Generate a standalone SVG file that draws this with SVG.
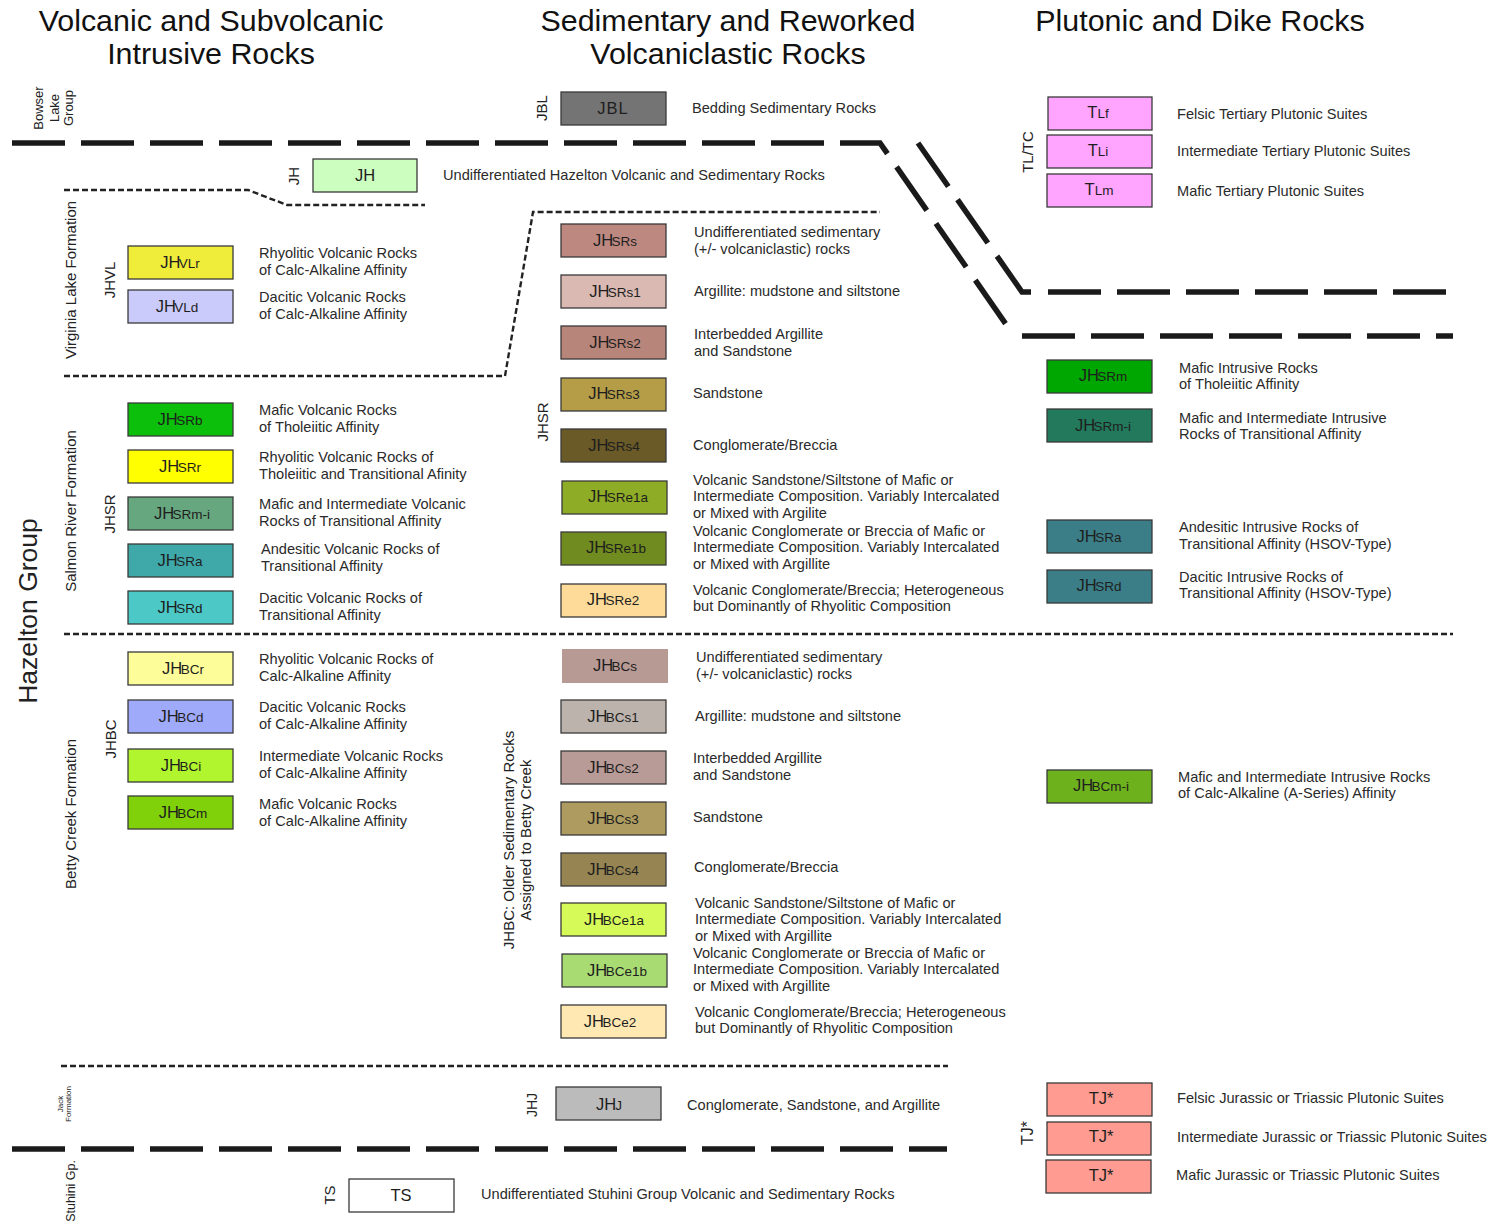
<svg xmlns="http://www.w3.org/2000/svg" width="1492" height="1223" viewBox="0 0 1492 1223">
<style>
text{font-family:"Liberation Sans",Arial,sans-serif;fill:#222}
.title{font-size:30.4px;fill:#111;text-anchor:middle}
.desc{font-size:14.6px;fill:#2a2a2a}
.lbl{font-size:16.5px;text-anchor:middle;fill:#1e1e1e}
.sub{font-size:13.5px}
.vt{font-size:15px;text-anchor:middle}
.box{stroke:#3a3a3a;stroke-width:1.3}
.thick{fill:none;stroke:#1a1a1a;stroke-width:5.5;stroke-dasharray:53 16}
.dot{fill:none;stroke:#222;stroke-width:2.4;stroke-dasharray:6 3}
</style>
<rect width="1492" height="1223" fill="#fff"/>
<g id="titles">
<text class="title" x="211" y="31">Volcanic and Subvolcanic</text>
<text class="title" x="211" y="64">Intrusive Rocks</text>
<text class="title" x="728" y="31">Sedimentary and Reworked</text>
<text class="title" x="728" y="64">Volcaniclastic Rocks</text>
<text class="title" x="1200" y="31">Plutonic and Dike Rocks</text>
</g>
<g id="connectors">
<path class="thick" d="M12,143 H880 L1012,333"/>
<path class="thick" d="M1022,336 H1453"/>
<path class="thick" d="M918,143 L1022,292 H1031"/>
<path class="thick" d="M1048,292 H1447"/>
<path class="thick" d="M12,1149 H947"/>
<path class="dot" d="M64,190 H248 L287,205 H425"/>
<path class="dot" d="M64,376 H505 L533,212 H880"/>
<path class="dot" d="M64,634 H1453"/>
<path class="dot" d="M61,1066 H948"/>
</g>
<g id="group-labels">
<text font-size="13" text-anchor="middle" transform="translate(43,108) rotate(-90)">Bowser</text>
<text font-size="13" text-anchor="middle" transform="translate(59,108) rotate(-90)">Lake</text>
<text font-size="13" text-anchor="middle" transform="translate(73,108) rotate(-90)">Group</text>
<text class="vt" transform="translate(76,280) rotate(-90)">Virginia Lake Formation</text>
<text class="vt" transform="translate(115,280) rotate(-90)">JHVL</text>
<text font-size="26.5" text-anchor="middle" transform="translate(37,611) rotate(-90)">Hazelton Group</text>
<text class="vt" transform="translate(76,511) rotate(-90)">Salmon River Formation</text>
<text class="vt" transform="translate(115,514) rotate(-90)">JHSR</text>
<text class="vt" transform="translate(76,814) rotate(-90)">Betty Creek Formation</text>
<text class="vt" transform="translate(116,739) rotate(-90)">JHBC</text>
<text class="vt" transform="translate(514,840) rotate(-90)">JHBC: Older Sedimentary Rocks</text>
<text class="vt" transform="translate(531,840) rotate(-90)">Assigned to Betty Creek</text>
<text class="vt" transform="translate(548,422) rotate(-90)">JHSR</text>
<text class="vt" transform="translate(547,108) rotate(-90)">JBL</text>
<text class="vt" transform="translate(299,176) rotate(-90)">JH</text>
<text class="vt" transform="translate(1033,152) rotate(-90)">TL/TC</text>
<text font-size="8" text-anchor="middle" transform="translate(63,1104) rotate(-90)">Jack</text>
<text font-size="8" text-anchor="middle" transform="translate(71,1104) rotate(-90)">Formation</text>
<text font-size="12.5" style="text-anchor:end" transform="translate(75,1160) rotate(-90)">Stuhini Gp.</text>
<text class="vt" transform="translate(335,1195) rotate(-90)">TS</text>
<text font-size="14" text-anchor="middle" transform="translate(537,1105) rotate(-90)">JHJ</text>
<text font-size="16" text-anchor="middle" transform="translate(1033,1133) rotate(-90)">TJ*</text>
</g>

<!-- Left column -->
<g id="JHVLr"><rect class="box" x="128" y="246" width="105" height="33" fill="#f0ec3a"/><text class="lbl" x="180" y="268">JH<tspan class="sub" dx="-1.5">VLr</tspan></text><text class="desc" x="259" y="258">Rhyolitic Volcanic Rocks<tspan x="259" dy="16.5">of Calc-Alkaline Affinity</tspan></text></g>
<g id="JHVLd"><rect class="box" x="128" y="290" width="105" height="33" fill="#cbcbfb"/><text class="lbl" x="177" y="312">JH<tspan class="sub" dx="-1.5">VLd</tspan></text><text class="desc" x="259" y="302">Dacitic Volcanic Rocks<tspan x="259" dy="16.5">of Calc-Alkaline Affinity</tspan></text></g>
<g id="JHSRb"><rect class="box" x="128" y="403" width="105" height="33" fill="#0bbf0b"/><text class="lbl" x="180" y="425">JH<tspan class="sub" dx="-1.5">SRb</tspan></text><text class="desc" x="259" y="415">Mafic Volcanic Rocks<tspan x="259" dy="16.5">of Tholeiitic Affinity</tspan></text></g>
<g id="JHSRr"><rect class="box" x="128" y="450" width="105" height="33" fill="#ffff00"/><text class="lbl" x="180" y="472">JH<tspan class="sub" dx="-1.5">SRr</tspan></text><text class="desc" x="259" y="462">Rhyolitic Volcanic Rocks of<tspan x="259" dy="16.5">Tholeiitic and Transitional Afinity</tspan></text></g>
<g id="JHSRm-i-v"><rect class="box" x="128" y="497" width="105" height="33" fill="#67a77f"/><text class="lbl" x="182" y="519">JH<tspan class="sub" dx="-1.5">SRm-i</tspan></text><text class="desc" x="259" y="509">Mafic and Intermediate Volcanic<tspan x="259" dy="16.5">Rocks of Transitional Affinity</tspan></text></g>
<g id="JHSRa-v"><rect class="box" x="128" y="544" width="105" height="33" fill="#3fa9aa"/><text class="lbl" x="180" y="566">JH<tspan class="sub" dx="-1.5">SRa</tspan></text><text class="desc" x="261" y="554">Andesitic Volcanic Rocks of<tspan x="261" dy="16.5">Transitional Affinity</tspan></text></g>
<g id="JHSRd-v"><rect class="box" x="128" y="591" width="105" height="33" fill="#4cc8c6"/><text class="lbl" x="180" y="613">JH<tspan class="sub" dx="-1.5">SRd</tspan></text><text class="desc" x="259" y="603">Dacitic Volcanic Rocks of<tspan x="259" dy="16.5">Transitional Affinity</tspan></text></g>
<g id="JHBCr"><rect class="box" x="128" y="652" width="105" height="33" fill="#fdfd99"/><text class="lbl" x="183" y="674">JH<tspan class="sub" dx="-1.5">BCr</tspan></text><text class="desc" x="259" y="664">Rhyolitic Volcanic Rocks of<tspan x="259" dy="16.5">Calc-Alkaline Affinity</tspan></text></g>
<g id="JHBCd"><rect class="box" x="128" y="700" width="105" height="33" fill="#a0aafa"/><text class="lbl" x="181" y="722">JH<tspan class="sub" dx="-1.5">BCd</tspan></text><text class="desc" x="259" y="712">Dacitic Volcanic Rocks<tspan x="259" dy="16.5">of Calc-Alkaline Affinity</tspan></text></g>
<g id="JHBCi"><rect class="box" x="128" y="749" width="105" height="33" fill="#b1f52f"/><text class="lbl" x="181" y="771">JH<tspan class="sub" dx="-1.5">BCi</tspan></text><text class="desc" x="259" y="761">Intermediate Volcanic Rocks<tspan x="259" dy="16.5">of Calc-Alkaline Affinity</tspan></text></g>
<g id="JHBCm"><rect class="box" x="128" y="796" width="105" height="33" fill="#80d10a"/><text class="lbl" x="183" y="818">JH<tspan class="sub" dx="-1.5">BCm</tspan></text><text class="desc" x="259" y="809">Mafic Volcanic Rocks<tspan x="259" dy="16.5">of Calc-Alkaline Affinity</tspan></text></g>

<!-- Middle column -->
<g id="JBL"><rect class="box" x="561" y="92" width="105" height="33" fill="#747474"/><text class="lbl" x="613" y="114" style="letter-spacing:1px">JBL</text><text class="desc" x="692" y="113">Bedding Sedimentary Rocks</text></g>
<g id="JH"><rect class="box" x="313" y="159" width="104" height="33" fill="#ccffbf" stroke="#555"/><text class="lbl" x="365" y="181" font-size="17.5">JH</text><text class="desc" x="443" y="180">Undifferentiated Hazelton Volcanic and Sedimentary Rocks</text></g>
<g id="JHSRs"><rect class="box" x="561" y="224" width="105" height="33" fill="#bc8880"/><text class="lbl" x="615" y="246">JH<tspan class="sub" dx="-1.5">SRs</tspan></text><text class="desc" x="694" y="237">Undifferentiated sedimentary<tspan x="694" dy="16.5">(+/- volcaniclastic) rocks</tspan></text></g>
<g id="JHSRs1"><rect class="box" x="561" y="275" width="105" height="33" fill="#d9b9b2"/><text class="lbl" x="615" y="297">JH<tspan class="sub" dx="-1.5">SRs1</tspan></text><text class="desc" x="694" y="296">Argillite: mudstone and siltstone</text></g>
<g id="JHSRs2"><rect class="box" x="561" y="326" width="105" height="33" fill="#b8857a"/><text class="lbl" x="615" y="348">JH<tspan class="sub" dx="-1.5">SRs2</tspan></text><text class="desc" x="694" y="339">Interbedded Argillite<tspan x="694" dy="16.5">and Sandstone</tspan></text></g>
<g id="JHSRs3"><rect class="box" x="561" y="378" width="105" height="33" fill="#b59d48"/><text class="lbl" x="614" y="399">JH<tspan class="sub" dx="-1.5">SRs3</tspan></text><text class="desc" x="693" y="398">Sandstone</text></g>
<g id="JHSRs4"><rect class="box" x="561" y="429" width="105" height="33" fill="#6a5a28"/><text class="lbl" x="614" y="451">JH<tspan class="sub" dx="-1.5">SRs4</tspan></text><text class="desc" x="693" y="450">Conglomerate/Breccia</text></g>
<g id="JHSRe1a"><rect class="box" x="562" y="481" width="105" height="33" fill="#8fac26"/><text class="lbl" x="618" y="502">JH<tspan class="sub" dx="-1.5">SRe1a</tspan></text><text class="desc" x="693" y="485">Volcanic Sandstone/Siltstone of Mafic or<tspan x="693" dy="16.3">Intermediate Composition. Variably Intercalated</tspan><tspan x="693" dy="16.3">or Mixed with Argilite</tspan></text></g>
<g id="JHSRe1b"><rect class="box" x="561" y="532" width="105" height="33" fill="#708b1f"/><text class="lbl" x="616" y="553">JH<tspan class="sub" dx="-1.5">SRe1b</tspan></text><text class="desc" x="693" y="536">Volcanic Conglomerate or Breccia of Mafic or<tspan x="693" dy="16.3">Intermediate Composition. Variably Intercalated</tspan><tspan x="693" dy="16.3">or Mixed with Argillite</tspan></text></g>
<g id="JHSRe2"><rect class="box" x="561" y="584" width="105" height="33" fill="#fedb99"/><text class="lbl" x="613" y="605">JH<tspan class="sub" dx="-1.5">SRe2</tspan></text><text class="desc" x="693" y="595">Volcanic Conglomerate/Breccia; Heterogeneous<tspan x="693" dy="16.3">but Dominantly of Rhyolitic Composition</tspan></text></g>
<g id="JHBCs"><rect x="562" y="649" width="106" height="34" fill="#b89a94"/><text class="lbl" x="615" y="671">JH<tspan class="sub" dx="-1.5">BCs</tspan></text><text class="desc" x="696" y="662">Undifferentiated sedimentary<tspan x="696" dy="16.5">(+/- volcaniclastic) rocks</tspan></text></g>
<g id="JHBCs1"><rect class="box" x="561" y="700" width="105" height="33" fill="#bdb3ad"/><text class="lbl" x="613" y="722">JH<tspan class="sub" dx="-1.5">BCs1</tspan></text><text class="desc" x="695" y="721">Argillite: mudstone and siltstone</text></g>
<g id="JHBCs2"><rect class="box" x="561" y="751" width="105" height="33" fill="#b89a96"/><text class="lbl" x="613" y="773">JH<tspan class="sub" dx="-1.5">BCs2</tspan></text><text class="desc" x="693" y="763">Interbedded Argillite<tspan x="693" dy="16.5">and Sandstone</tspan></text></g>
<g id="JHBCs3"><rect class="box" x="561" y="802" width="105" height="33" fill="#ad9b5f"/><text class="lbl" x="613" y="824">JH<tspan class="sub" dx="-1.5">BCs3</tspan></text><text class="desc" x="693" y="822">Sandstone</text></g>
<g id="JHBCs4"><rect class="box" x="561" y="853" width="105" height="33" fill="#968553"/><text class="lbl" x="613" y="875">JH<tspan class="sub" dx="-1.5">BCs4</tspan></text><text class="desc" x="694" y="872">Conglomerate/Breccia</text></g>
<g id="JHBCe1a"><rect class="box" x="561" y="903" width="105" height="33" fill="#d6fb59"/><text class="lbl" x="614" y="925">JH<tspan class="sub" dx="-1.5">BCe1a</tspan></text><text class="desc" x="695" y="908">Volcanic Sandstone/Siltstone of Mafic or<tspan x="695" dy="16.3">Intermediate Composition. Variably Intercalated</tspan><tspan x="695" dy="16.3">or Mixed with Argillite</tspan></text></g>
<g id="JHBCe1b"><rect class="box" x="562" y="954" width="105" height="33" fill="#a9db73"/><text class="lbl" x="617" y="976">JH<tspan class="sub" dx="-1.5">BCe1b</tspan></text><text class="desc" x="693" y="958">Volcanic Conglomerate or Breccia of Mafic or<tspan x="693" dy="16.3">Intermediate Composition. Variably Intercalated</tspan><tspan x="693" dy="16.3">or Mixed with Argillite</tspan></text></g>
<g id="JHBCe2"><rect class="box" x="561" y="1005" width="105" height="33" fill="#ffe8b2"/><text class="lbl" x="610" y="1027">JH<tspan class="sub" dx="-1.5">BCe2</tspan></text><text class="desc" x="695" y="1017">Volcanic Conglomerate/Breccia; Heterogeneous<tspan x="695" dy="16.3">but Dominantly of Rhyolitic Composition</tspan></text></g>
<g id="JHJ"><rect class="box" x="556" y="1087" width="105" height="33" fill="#bbbbbb"/><text class="lbl" x="609" y="1110">JH<tspan class="sub" dx="-1">J</tspan></text><text class="desc" x="687" y="1110">Conglomerate, Sandstone, and Argillite</text></g>
<g id="TS"><rect class="box" x="349" y="1179" width="105" height="33" fill="#ffffff"/><text class="lbl" x="401" y="1201">TS</text><text class="desc" x="481" y="1199">Undifferentiated Stuhini Group Volcanic and Sedimentary Rocks</text></g>

<!-- Right column -->
<g id="TLf"><rect class="box" x="1048" y="97" width="104" height="33" fill="#ffa5ff"/><text class="lbl" x="1098" y="118">T<tspan class="sub">Lf</tspan></text><text class="desc" x="1177" y="119">Felsic Tertiary Plutonic Suites</text></g>
<g id="TLi"><rect class="box" x="1047" y="135" width="105" height="33" fill="#ffa5ff"/><text class="lbl" x="1098" y="156">T<tspan class="sub">Li</tspan></text><text class="desc" x="1177" y="156">Intermediate Tertiary Plutonic Suites</text></g>
<g id="TLm"><rect class="box" x="1047" y="174" width="105" height="33" fill="#ffa5ff"/><text class="lbl" x="1099" y="195">T<tspan class="sub">Lm</tspan></text><text class="desc" x="1177" y="196">Mafic Tertiary Plutonic Suites</text></g>
<g id="JHSRm"><rect class="box" x="1047" y="360" width="105" height="33" fill="#00a700"/><text class="lbl" x="1103" y="381">JH<tspan class="sub" dx="-1.5">SRm</tspan></text><text class="desc" x="1179" y="373">Mafic Intrusive Rocks<tspan x="1179" dy="16.3">of Tholeiitic Affinity</tspan></text></g>
<g id="JHSRm-i-p"><rect class="box" x="1047" y="409" width="105" height="33" fill="#22795b"/><text class="lbl" x="1103" y="431">JH<tspan class="sub" dx="-1.5">SRm-i</tspan></text><text class="desc" x="1179" y="423">Mafic and Intermediate Intrusive<tspan x="1179" dy="16.3">Rocks of Transitional Affinity</tspan></text></g>
<g id="JHSRa-p"><rect class="box" x="1047" y="520" width="105" height="33" fill="#3b7e88"/><text class="lbl" x="1099" y="542">JH<tspan class="sub" dx="-1.5">SRa</tspan></text><text class="desc" x="1179" y="532">Andesitic Intrusive Rocks of<tspan x="1179" dy="16.8">Transitional Affinity (HSOV-Type)</tspan></text></g>
<g id="JHSRd-p"><rect class="box" x="1047" y="570" width="105" height="33" fill="#3b7e88"/><text class="lbl" x="1099" y="591">JH<tspan class="sub" dx="-1.5">SRd</tspan></text><text class="desc" x="1179" y="582">Dacitic Intrusive Rocks of<tspan x="1179" dy="16.3">Transitional Affinity (HSOV-Type)</tspan></text></g>
<g id="JHBCm-i"><rect class="box" x="1047" y="770" width="105" height="33" fill="#6db21c"/><text class="lbl" x="1101" y="791">JH<tspan class="sub" dx="-1.5">BCm-i</tspan></text><text class="desc" x="1178" y="782">Mafic and Intermediate Intrusive Rocks<tspan x="1178" dy="16.3">of Calc-Alkaline (A-Series) Affinity</tspan></text></g>
<g id="TJf"><rect class="box" x="1047" y="1083" width="105" height="33" fill="#ff9b90"/><text class="lbl" x="1101" y="1104">TJ*</text><text class="desc" x="1177" y="1103">Felsic Jurassic or Triassic Plutonic Suites</text></g>
<g id="TJi"><rect class="box" x="1047" y="1122" width="104" height="33" fill="#ff9b90"/><text class="lbl" x="1101" y="1142">TJ*</text><text class="desc" x="1177" y="1142">Intermediate Jurassic or Triassic Plutonic Suites</text></g>
<g id="TJm"><rect class="box" x="1046" y="1160" width="105" height="33" fill="#ff9b90"/><text class="lbl" x="1101" y="1181">TJ*</text><text class="desc" x="1176" y="1180">Mafic Jurassic or Triassic Plutonic Suites</text></g>
</svg>
